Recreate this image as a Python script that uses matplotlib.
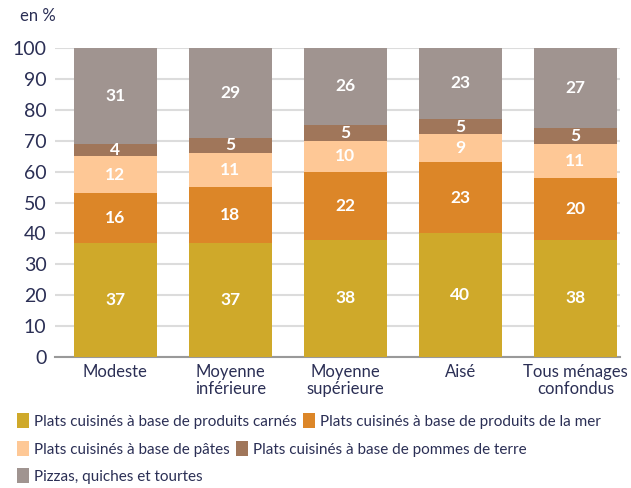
import numpy as np
import matplotlib.pyplot as plt
from matplotlib.patches import Patch

plt.rcParams['font.family'] = ['Lato', 'DejaVu Sans']

categories = ["Modeste", "Moyenne\ninférieure", "Moyenne\nsupérieure", "Aisé", "Tous ménages\nconfondus"]
series_names = ["Plats cuisinés à base de produits carnés",
                "Plats cuisinés à base de produits de la mer",
                "Plats cuisinés à base de pâtes",
                "Plats cuisinés à base de pommes de terre",
                "Pizzas, quiches et tourtes"]
carnes = [37, 37, 38, 40, 38]
mer = [16, 18, 22, 23, 20]
pates = [12, 11, 10, 9, 11]
pommes = [4, 5, 5, 5, 5]
pizzas = [31, 29, 26, 23, 27]
colors = ["#CFA92A", "#DC8628", "#FEC896", "#A0765A", "#A09490"]

text_col = "#2b2f55"

fig = plt.figure(figsize=(6.31, 4.88), dpi=100)
ax = fig.add_axes([0.087, 0.268, 0.896, 0.634])

x = np.arange(len(categories))
bottom = np.zeros(len(categories))
for vals, col in zip([carnes, mer, pates, pommes, pizzas], colors):
    vals = np.array(vals, dtype=float)
    ax.bar(x, vals, 0.72, bottom=bottom, color=col, zorder=3)
    for xi, b, v in zip(x, bottom, vals):
        # top segment may overshoot 100 (rounding), keep label inside visible part
        yc = min(b + v / 2, (b + 100) / 2)
        ax.text(xi, yc, str(int(v)), ha='center', va='center', color='white',
                fontsize=12.5, fontweight='bold', zorder=4)
    bottom += vals

ax.set_ylim(0, 100)
ax.set_xlim(-0.526, 4.39)
ax.set_yticks(range(0, 101, 10))
ax.yaxis.grid(True, color="#dcdcdc", linewidth=1.5, zorder=0)
for s in ['top', 'right', 'left']:
    ax.spines[s].set_visible(False)
ax.spines['bottom'].set_color("#999999")
ax.spines['bottom'].set_linewidth(1.5)
ax.tick_params(axis='both', length=0, colors=text_col)
ax.tick_params(axis='y', pad=6, labelsize=14)
ax.tick_params(axis='x', pad=5, labelsize=12)
ax.set_xticks(x)
ax.set_xticklabels(categories, linespacing=1.05)

fig.text(0.032, 0.967, "en %", fontsize=12, color=text_col, ha='left', va='center')

handles = [Patch(facecolor=c) for c in colors]
rows = [([0, 1], 0.137), ([2, 3], 0.08), ([4], 0.025)]
for idx, yy in rows:
    leg = fig.legend([handles[i] for i in idx], [series_names[i] for i in idx],
                     loc='center left', bbox_to_anchor=(0.027, yy), ncol=len(idx),
                     frameon=False, fontsize=11, handlelength=0.8, handleheight=1.1,
                     handletextpad=0.3, columnspacing=0.4, borderpad=0, borderaxespad=0)
    for t in leg.get_texts():
        t.set_color(text_col)

fig.savefig("out.png", dpi=100)
